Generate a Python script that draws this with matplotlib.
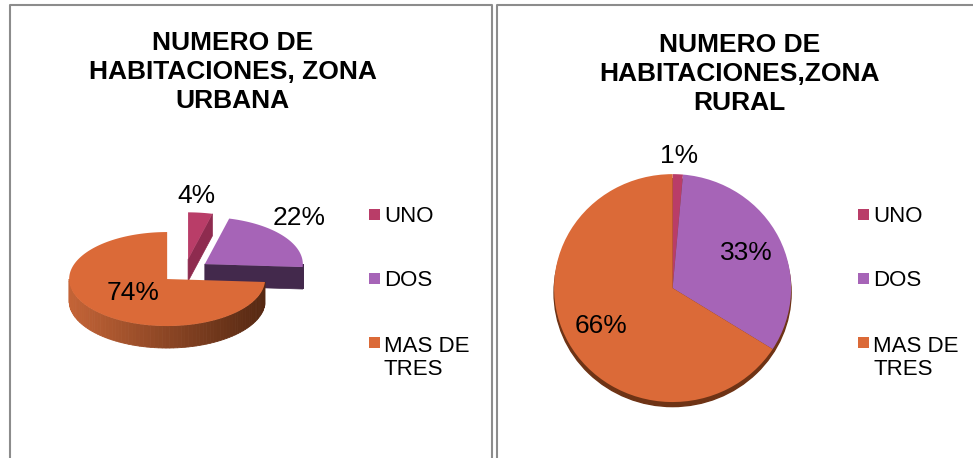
import numpy as np
import matplotlib
matplotlib.use('Agg')
import matplotlib.pyplot as plt
from matplotlib.patches import Rectangle, Ellipse

# datos
categorias = ['UNO', 'DOS', 'MAS DE\nTRES']
urbana = [4, 22, 74]
rural = [1.4, 32.6, 66.0]

colores = ['#B93D68', '#A664B7', '#DB6A38']
lados = ['#8E2B4F', '#43294C', '#5A2A12']
fuente_pct = ['Liberation Sans Narrow', 'Liberation Sans']

fig = plt.figure(figsize=(9.73, 4.58), dpi=100)
ax = fig.add_axes([0, 0, 1, 1])
ax.set_xlim(0, 973)
ax.set_ylim(458, 0)
ax.axis('off')

# marcos de los dos graficos
gris = '#8c8c8c'
ax.plot([9.5, 9.5, 491.5, 491.5], [458, 4.5, 4.5, 458], color=gris, lw=1.5)
ax.plot([496.5, 496.5, 973], [458, 4.5, 4.5], color=gris, lw=1.5)

# titulos (va='baseline' usa la ultima linea)
titulo = dict(fontsize=19, fontweight='bold', family='Liberation Sans',
              ha='center', va='baseline', linespacing=1.25)
ax.text(232.5, 108, 'NUMERO DE\nHABITACIONES, ZONA\nURBANA', **titulo)
ax.text(739.5, 110, 'NUMERO DE\nHABITACIONES,ZONA\nRURAL', **titulo)

# pastel 3D separado (zona urbana)
cx, cy, a, b, h, k = 185, 271, 98, 47, 22, 0.25
etq_rx = [0.65, 1.19, 0.48]
etq_ry = [1.35, 1.66, 0.43]
fr = np.array(urbana) / sum(urbana)
t_ini = np.concatenate([[0], np.cumsum(fr)[:-1]]) * 2 * np.pi
t_fin = np.cumsum(fr) * 2 * np.pi

def borde(x0, y0, t, rx=1.0, ry=None):
    ry = rx if ry is None else ry
    return x0 + rx * a * np.sin(t), y0 - ry * b * np.cos(t)

luz = np.array([196, 100, 55]) / 255
sombra = np.array([85, 40, 18]) / 255

for i in range(3):
    t1, t2 = t_ini[i], t_fin[i]
    tm = (t1 + t2) / 2
    x0, y0 = borde(cx, cy, tm, k)
    # lado exterior visible
    lo, hi = max(t1, np.pi / 2), min(t2, 3 * np.pi / 2)
    if hi > lo:
        ts = np.linspace(lo, hi, 80)
        xs, ys = borde(x0, y0, ts)
        for j in range(len(ts) - 1):
            if i == 2:
                f = np.clip((xs[j] - (x0 - a)) / (2 * a), 0, 1)
                c = luz * (1 - f) + sombra * f
            else:
                c = lados[i]
            ax.fill([xs[j], xs[j + 1], xs[j + 1], xs[j]],
                    [ys[j], ys[j + 1], ys[j + 1] + h, ys[j] + h],
                    color=c, lw=0.6)
    # caras del corte
    for t, vis in ((t1, np.sin(t1) < -1e-6), (t2, np.sin(t2) > 1e-6)):
        if vis:
            xe, ye = borde(x0, y0, t)
            ax.fill([x0, xe, xe, x0], [y0, ye, ye + h, y0 + h], color=lados[i], lw=0.5)
    # cara superior
    ts = np.linspace(t1, t2, 150)
    xs, ys = borde(x0, y0, ts)
    ax.fill(np.r_[x0, xs], np.r_[y0, ys], color=colores[i], lw=0)
    xl, yl = borde(x0, y0, tm, etq_rx[i], etq_ry[i])
    ax.text(xl, yl, f'{urbana[i]}%', family=fuente_pct, fontsize=19,
            ha='center', va='center', color='black')

# leyendas
def leyenda(x, y):
    for i, lab in enumerate(categorias):
        extra = 25 * lab.count('\n')
        ax.add_patch(Rectangle((x, y + 64 * i), 10.5, 10.5, color=colores[i], lw=0))
        ax.text(x + 15, y + 13 + 64 * i + extra, lab, family='Liberation Sans',
                fontsize=16, va='baseline', ha='left', linespacing=1.1,
                color='black')

leyenda(369, 209)
leyenda(858, 209)

# pastel zona rural
ax2 = fig.add_axes([0.539, 0.060, 0.3045, 0.622])
ax2.add_patch(Ellipse((0, -0.04), 2, 2, color='#6e3315', zorder=0))
w, _, auto = ax2.pie(rural, colors=colores, startangle=90, counterclock=False,
                     autopct='%.0f%%', pctdistance=0.69,
                     textprops=dict(family=fuente_pct, size=19),
                     wedgeprops=dict(lw=0))
ang = np.deg2rad(90 - 360 * rural[0] / sum(rural) / 2)
auto[0].set_position((1.16 * np.cos(ang), 1.16 * np.sin(ang)))
ax2.set_aspect('auto')
ax2.set_xlim(-1.25, 1.25)
ax2.set_ylim(-1.25, 1.25)

fig.savefig('out.png', dpi=100)
